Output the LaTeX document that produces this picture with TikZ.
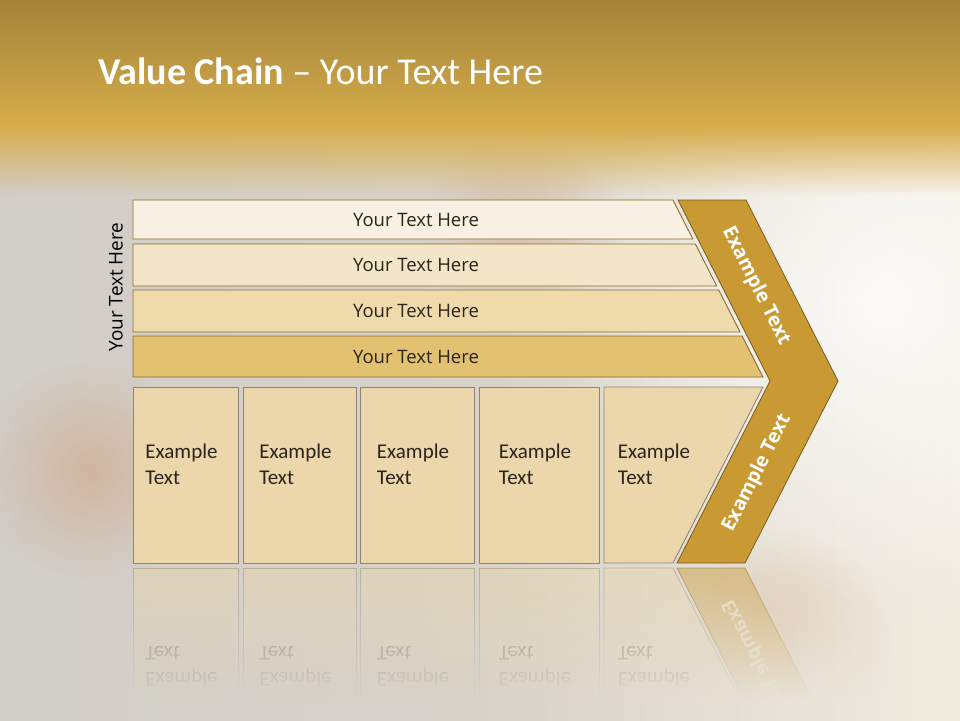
\documentclass[tikz,border=0pt]{standalone}
\usepackage{fontspec}
\setmainfont{Carlito}
\newfontfamily\segoe{Open Sans}
\usepackage{xcolor}
\usepackage{tikz}
\usetikzlibrary{positioning, fadings}

\definecolor{hdrtop}{HTML}{9A7C36}
\definecolor{hdrbot}{HTML}{D8AE4C}
\definecolor{bgleft}{HTML}{D1CEC8}
\definecolor{bgmid}{HTML}{D8D3C9}
\definecolor{bgright}{HTML}{F2EDE1}
\definecolor{flame}{HTML}{C8692A}
\definecolor{barline}{HTML}{8B6B2A}
\definecolor{barone}{HTML}{F8F1E3}
\definecolor{bartwo}{HTML}{F3E6C8}
\definecolor{barthree}{HTML}{EFDAAC}
\definecolor{barfour}{HTML}{E2C171}
\definecolor{cellfill}{HTML}{ECD6AB}
\definecolor{cellline}{HTML}{8D8474}
\definecolor{chevfill}{HTML}{C99A34}
\definecolor{chevline}{HTML}{7A5C1C}
\definecolor{inkdark}{HTML}{2A241A}

\tikzfading[name=fadedown, top color=transparent!0, bottom color=transparent!100]
\tikzfading[name=fadeup, top color=transparent!100, bottom color=transparent!0]
\tikzfading[name=softglow, inner color=transparent!0, outer color=transparent!100]

\begin{document}
\begin{tikzpicture}[x=1pt, y=-1pt,
        bar/.style={draw=barline, line width=0.9pt},
        bartext/.style={font=\segoe\fontsize{18.5}{22}\selectfont, text=inkdark},
        cell/.style={draw=cellline, fill=cellfill, line width=0.9pt},
        celltext/.style={anchor=north, align=left, inner sep=0pt, font=\fontsize{21}{26}\selectfont, text=inkdark},
        chev/.style={draw=chevline, fill=chevfill, line width=0.8pt},
        chevtext/.style={font=\segoe\bfseries\fontsize{19.5}{22}\selectfont, text=white},
        glow/.style={path fading=softglow},
        ghost/.style={opacity=0.45}
    ]
        \useasboundingbox (0,0) rectangle (960,720);
        \clip (0,0) rectangle (960,720);

        % Backdrop
        \shade[left color=bgleft, right color=bgright, middle color=bgmid] (-20,-20) rectangle (980,740);
        \fill[white, opacity=0.8, glow] (880,300) circle (330);
        \fill[flame, opacity=0.25, glow] (90,470) circle (110);
        \fill[flame, opacity=0.18, glow] (520,230) circle (100);
        \fill[flame, opacity=0.22, glow] (780,640) circle (110);
        \shade[top color=hdrtop, bottom color=hdrbot] (-20,-20) rectangle (980,128);
        \fill[hdrbot, path fading=fadedown] (-20,127) rectangle (980,196);

        % Title
        \node[anchor=base west, inner sep=0pt, text=white, font=\fontsize{38}{42}\selectfont] (title) at (98,84) {\textbf{Value Chain} -- Your Text Here};
        \node[rotate=90, font=\segoe\fontsize{19}{22}\selectfont, text=black] (side) at (116,287) {Your Text Here};

        % Rows
        \foreach \top/\bot/\tone [count=\i] in {200/239/barone, 244/286/bartwo, 290/332/barthree, 336/377/barfour} {
            \pgfmathsetmacro\rt{673+0.508*(\top-200)}
            \pgfmathsetmacro\rb{673+0.508*(\bot-200)}
            \draw[bar, fill=\tone] (133,\top) -- (\rt,\top) -- (\rb,\bot) -- (133,\bot) -- cycle;
            \node[bartext] (row\i) at (416,{(\top+\bot)/2}) {Your Text Here};
        }

        % Cells and their reflection
        \foreach \l/\r [count=\i] in {133/238, 243/356, 360/474, 479/599} {
            \draw[cell] (\l,387) rectangle (\r,563);
            \node[celltext] (cell\i) at ({(\l+\r)/2-4},444) {Example\\Text};
            \draw[cell, ghost] (\l,568) rectangle (\r,744);
            \node[celltext, ghost, yscale=-1] (echo\i) at ({(\l+\r)/2-4},687) {Example\\Text};
        }
        \draw[cell] (604,387) -- (763,387) -- (673,563) -- (604,563) -- cycle;
        \node[celltext] (cell5) at (654,444) {Example\\Text};
        \draw[cell, ghost] (604,744) -- (763,744) -- (673,568) -- (604,568) -- cycle;
        \node[celltext, ghost, yscale=-1] (echo5) at (654,687) {Example\\Text};

        % Chevron
        \draw[chev] (678,200) -- (746,200) -- (838,381) -- (745,563) -- (677,563) -- (770,381) -- cycle;
        \node[chevtext, rotate=-63.2] (chevtop) at (756,286) {Example Text};
        \node[chevtext, rotate=63.2] (chevbot) at (757,473) {Example Text};
        \draw[chev, ghost] (677,568) -- (745,568) -- (838,750) -- (770,750) -- cycle;
        \node[chevtext, ghost, yscale=-1, rotate=63.2] (chevecho) at (757,658) {Example Text};

        % Fade the reflection
        \shade[left color=bgleft, right color=bgright, middle color=bgmid, path fading=fadeup] (-20,567) rectangle (980,700);
        \shade[left color=bgleft, right color=bgright, middle color=bgmid] (-20,699) rectangle (980,740);
    \end{tikzpicture}
\end{document}
